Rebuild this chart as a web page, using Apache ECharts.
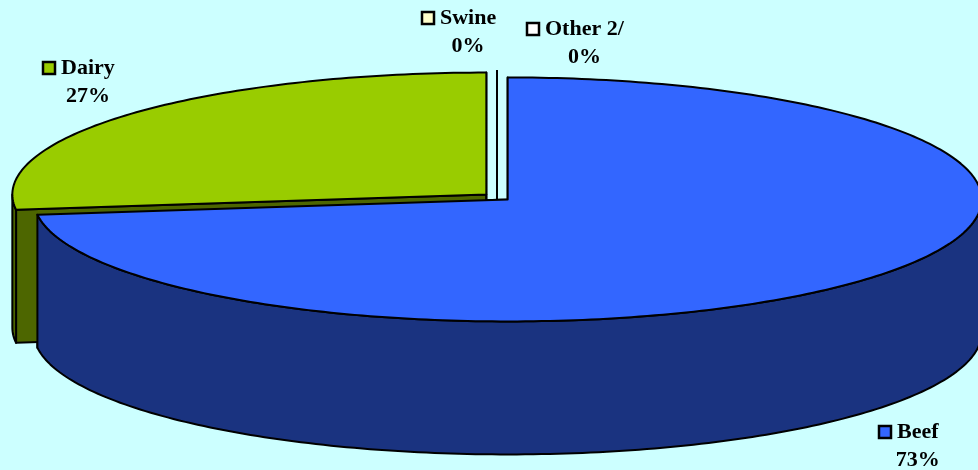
<!DOCTYPE html>
<html>
<head>
<meta charset="utf-8">
<script src="https://cdn.jsdelivr.net/npm/echarts@6/dist/echarts.min.js"></script>
<style>
  html, body { margin: 0; padding: 0; background: #ccffff; }
  #chart { width: 978px; height: 470px; }
</style>
</head>
<body>
<div id="chart"></div>
<script>
// slices, clockwise from 12 o'clock
const categories = ['Beef', 'Dairy', 'Swine', 'Other 2/']
const shares = [73, 27, 0, 0]
const topColors = ['#3366ff', '#99cc00', '#ffffcc', '#ffffff']
const sideColors = ['#1a3380', '#4d6600', '#808066', '#808080']
// label anchor: left edge of the name text, middle of the name line
const labelAt = [[897, 432], [61, 68], [440, 18], [545, 29]]

// layout of the tilted pie
const cx = 497
const cy = 197
const rx = 474
const ry = 122
const depth = 133
const explode = 0.03
const FONT = 'bold 22px "Liberation Serif", "Times New Roman", serif'

const total = shares.reduce((a, b) => a + b, 0)
const starts = []
let acc = 0
shares.forEach(v => { starts.push(acc / total * 360); acc += v })

const measure = document.createElement('canvas').getContext('2d')
measure.font = FONT

function pt(x0, y0, deg, dy) {
  const r = deg * Math.PI / 180
  return [x0 + rx * Math.sin(r), y0 - ry * Math.cos(r) + (dy || 0)]
}

function arc(x0, y0, a, b, dy) {
  const n = Math.max(2, Math.ceil(Math.abs(b - a)))
  const pts = []
  for (let i = 0; i <= n; i++) pts.push(pt(x0, y0, a + (b - a) * i / n, dy))
  return pts
}

function renderItem(params, api) {
  const i = params.dataIndex
  const v = api.value(0)
  const a0 = starts[i]
  const a1 = a0 + v / total * 360
  const mid = (a0 + a1) / 2 * Math.PI / 180
  const ox = cx + explode * rx * Math.sin(mid)
  const oy = cy - explode * ry * Math.cos(mid)
  const edge = { stroke: '#000', lineWidth: 2, lineJoin: 'round' }
  const children = []

  // radial cut faces
  ;[a0, a1].forEach(a => {
    const p = pt(ox, oy, a)
    children.push({
      type: 'polygon', z2: 1,
      shape: { points: [[ox, oy], p, [p[0], p[1] + depth], [ox, oy + depth]] },
      style: Object.assign({ fill: sideColors[i] }, edge)
    })
  })

  // visible (front) part of the outer wall
  const w0 = Math.max(a0, 90)
  const w1 = Math.min(a1, 270)
  if (w1 > w0) {
    children.push({
      type: 'polygon', z2: 2,
      shape: { points: arc(ox, oy, w0, w1).concat(arc(ox, oy, w1, w0, depth)) },
      style: Object.assign({ fill: sideColors[i] }, edge)
    })
  }

  // top face
  children.push({
    type: 'polygon', z2: 3,
    shape: { points: [[ox, oy]].concat(arc(ox, oy, a0, a1)) },
    style: Object.assign({ fill: topColors[i] }, edge)
  })

  // label: box + name, percent centred under the name
  const lx = labelAt[i][0]
  const ly = labelAt[i][1]
  const tw = measure.measureText(categories[i]).width
  children.push({
    type: 'rect', z2: 10,
    shape: { x: lx - 18, y: ly - 6, width: 12, height: 12 },
    style: { fill: topColors[i], stroke: '#000', lineWidth: 2.5 }
  })
  children.push({
    type: 'text', z2: 10, x: lx, y: ly,
    style: { text: categories[i], font: FONT, fill: '#000', align: 'left', verticalAlign: 'middle' }
  })
  children.push({
    type: 'text', z2: 10, x: lx + tw / 2, y: ly + 28,
    style: { text: Math.round(v / total * 100) + '%', font: FONT, fill: '#000', align: 'center', verticalAlign: 'middle' }
  })

  return { type: 'group', children: children }
}

const chart = echarts.init(document.getElementById('chart'))
chart.setOption({
  backgroundColor: '#ccffff',
  animation: false,
  series: [{
    type: 'custom',
    coordinateSystem: 'none',
    renderItem: renderItem,
    data: shares.map((v, i) => ({ name: categories[i], value: [v] }))
  }]
})
</script>
</body>
</html>
